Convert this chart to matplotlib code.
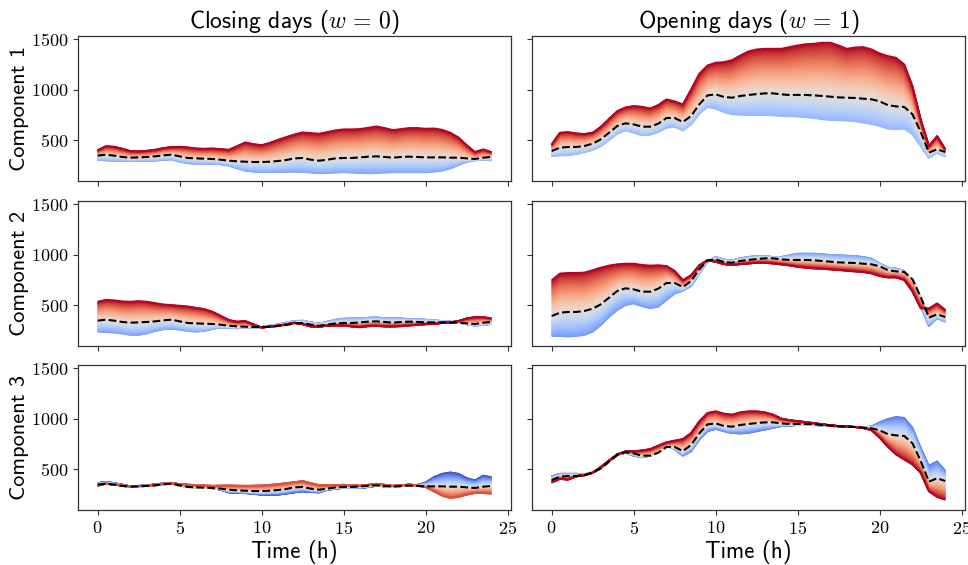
import numpy as np
import matplotlib
matplotlib.use("Agg")
import matplotlib.pyplot as plt
from matplotlib.ticker import FuncFormatter

plt.rcParams['mathtext.fontset'] = 'cm'
plt.rcParams['font.family'] = ['cmss10', 'DejaVu Sans']
plt.rcParams['axes.unicode_minus'] = False

# time grid (hours)
hours = np.arange(0, 24.5, 0.5)

# mean daily profiles
mean_close = [345, 355, 345, 332, 325, 328, 332, 338, 348, 355, 338, 322, 318, 315, 312, 305, 295, 289, 285, 282,
              282, 285, 292, 302, 318, 322, 305, 295, 305, 318, 322, 322, 328, 335, 338, 332, 325, 332, 335, 332,
              328, 328, 328, 325, 325, 318, 312, 325, 332]
mean_open = [391, 424, 431, 431, 441, 464, 507, 573, 639, 665, 655, 632, 632, 662, 718, 718, 678, 738, 853, 942,
             952, 926, 919, 936, 946, 955, 962, 962, 952, 946, 946, 946, 942, 936, 929, 922, 919, 916, 909, 903,
             883, 845, 833, 827, 754, 580, 375, 408, 381]

# extreme curves (largest positive score = red, most negative score = blue)
red_close_1 = [400, 440, 434, 414, 391, 388, 394, 404, 421, 431, 434, 427, 417, 414, 417, 411, 404, 440, 477, 460,
               450, 473, 503, 530, 556, 576, 569, 563, 579, 596, 606, 606, 609, 622, 635, 619, 599, 609, 619, 619,
               612, 615, 602, 573, 526, 450, 381, 407, 381]
blue_close_1 = [302, 298, 295, 293, 292, 292, 292, 296, 302, 308, 285, 269, 266, 266, 266, 259, 246, 219, 196, 186,
                183, 183, 183, 184, 186, 182, 177, 170, 173, 177, 180, 177, 173, 170, 173, 177, 180, 180, 180, 180,
                180, 186, 196, 219, 252, 285, 299, 305, 299]
red_open_1 = [457, 573, 579, 566, 560, 573, 632, 711, 787, 823, 837, 830, 813, 847, 903, 883, 853, 1002, 1157, 1239,
              1266, 1272, 1292, 1338, 1378, 1398, 1404, 1404, 1404, 1421, 1437, 1450, 1454, 1464, 1464, 1437, 1404,
              1417, 1421, 1398, 1358, 1332, 1315, 1249, 1035, 705, 441, 540, 408]
blue_open_1 = [342, 348, 348, 361, 381, 401, 441, 500, 563, 596, 573, 546, 553, 579, 622, 632, 596, 655, 761, 827,
               810, 777, 754, 751, 747, 747, 747, 744, 738, 735, 731, 725, 718, 705, 698, 695, 691, 685, 672, 658,
               639, 612, 606, 612, 556, 441, 325, 375, 335]

red_close_2 = [533, 552, 546, 536, 533, 539, 533, 519, 506, 500, 493, 486, 473, 460, 434, 394, 352, 335, 342, 309,
               276, 286, 296, 309, 325, 309, 286, 283, 296, 296, 296, 286, 279, 289, 292, 286, 286, 289, 296, 302,
               309, 312, 322, 329, 342, 368, 381, 381, 368]
blue_close_2 = [236, 232, 227, 217, 204, 204, 217, 243, 259, 263, 256, 243, 236, 243, 263, 276, 276, 269, 276, 276,
                282, 296, 309, 326, 342, 345, 329, 315, 335, 355, 365, 368, 368, 375, 378, 368, 368, 368, 361, 358,
                355, 348, 342, 335, 329, 309, 296, 302, 312]
red_open_2 = [746, 812, 818, 818, 822, 845, 871, 891, 904, 910, 910, 897, 891, 894, 887, 838, 746, 795, 894, 943,
              927, 904, 894, 904, 910, 917, 917, 910, 901, 891, 877, 868, 861, 858, 851, 845, 838, 831, 825, 812,
              785, 772, 772, 746, 631, 466, 466, 516, 450]
blue_open_2 = [193, 193, 187, 193, 203, 236, 302, 384, 450, 499, 516, 489, 466, 483, 548, 614, 641, 687, 812, 927,
               976, 950, 943, 963, 976, 986, 983, 976, 976, 993, 1009, 1009, 1009, 1003, 996, 993, 989, 986, 976, 960,
               910, 871, 861, 838, 713, 483, 292, 368, 335]

red_close_3 = [334, 354, 347, 338, 328, 331, 334, 345, 354, 361, 351, 346, 341, 337, 334, 336, 338, 336, 334, 336,
               338, 344, 351, 361, 371, 381, 361, 341, 338, 341, 344, 339, 334, 344, 354, 344, 334, 340, 347, 338,
               321, 278, 235, 212, 222, 245, 261, 261, 255]
blue_close_3 = [361, 371, 361, 345, 328, 333, 338, 348, 357, 360, 334, 326, 318, 314, 311, 294, 268, 264, 261, 253,
                245, 245, 245, 256, 268, 278, 271, 268, 294, 304, 314, 312, 311, 322, 334, 328, 321, 331, 341, 341,
                367, 420, 453, 467, 453, 410, 387, 434, 420]
red_open_3 = [367, 401, 394, 427, 438, 462, 520, 585, 645, 675, 675, 685, 698, 732, 765, 781, 798, 857, 973, 1056,
              1072, 1049, 1039, 1062, 1072, 1072, 1062, 1039, 1000, 985, 975, 965, 955, 943, 934, 925, 921, 916, 905,
              885, 808, 718, 642, 592, 543, 460, 278, 222, 195]
blue_open_3 = [427, 453, 453, 453, 446, 468, 512, 578, 642, 662, 632, 616, 632, 675, 732, 698, 632, 675, 791, 874,
               897, 874, 857, 851, 857, 874, 890, 907, 925, 930, 935, 938, 935, 932, 926, 920, 918, 917, 912, 921,
               963, 996, 1016, 1006, 907, 708, 533, 576, 480]

col_titles = [r"Closing days ($w\,=\,0$)", r"Opening days ($w\,=\,1$)"]
row_labels = ["Component 1", "Component 2", "Component 3"]
means = [mean_close, mean_open]
reds = [[red_close_1, red_open_1], [red_close_2, red_open_2], [red_close_3, red_open_3]]
blues = [[blue_close_1, blue_open_1], [blue_close_2, blue_open_2], [blue_close_3, blue_open_3]]

W, H = 968, 565
fig = plt.figure(figsize=(W / 100, H / 100), dpi=100)
cmap = plt.get_cmap('coolwarm')
n_lines = 90

col_x = [78, 532]
col_w = 433
row_top = [36, 201, 365]
row_h = 145

tick_fmt = FuncFormatter(lambda v, p: r"$%d$" % int(round(v)))
for r in range(3):
    for c in range(2):
        ax = fig.add_axes([col_x[c] / W, 1 - (row_top[r] + row_h) / H, col_w / W, row_h / H])
        m = np.array(means[c], dtype=float)
        hi = np.array(reds[r][c], dtype=float)
        lo = np.array(blues[r][c], dtype=float)
        # score range on each side, colour normalised by the larger one
        a = np.max(np.abs(lo - m))
        b = np.max(np.abs(hi - m))
        M = max(a, b)
        fa, fb = a / M, b / M
        for s in np.linspace(-1, 1, n_lines):
            if s >= 0:
                y = m + s * (hi - m)
                cv = 0.5 + 0.5 * s * fb
            else:
                y = m + (-s) * (lo - m)
                cv = 0.5 + 0.5 * s * fa
            ax.plot(hours, y, color=cmap(cv), lw=1.3, solid_capstyle='butt')
        ax.plot(hours, m, color='black', ls='--', lw=1.5)
        ax.set_xlim(-1.2, 25.2)
        ax.set_ylim(94, 1530)
        ax.set_yticks([500, 1000, 1500])
        ax.set_xticks([0, 5, 10, 15, 20, 25])
        ax.yaxis.set_major_formatter(tick_fmt)
        ax.xaxis.set_major_formatter(tick_fmt)
        ax.tick_params(labelsize=13, length=3.5, width=0.8, colors='#333333', labelcolor='black')
        for sp in ax.spines.values():
            sp.set_color('#333333')
            sp.set_linewidth(0.9)
        if c == 1:
            ax.tick_params(labelleft=False)
        else:
            ax.set_ylabel(row_labels[r], fontsize=16, labelpad=1.5)
        if r < 2:
            ax.tick_params(labelbottom=False)
        else:
            ax.set_xlabel("Time (h)", fontsize=16.5, labelpad=2)
        if r == 0:
            ax.set_title(col_titles[c], fontsize=17, pad=5)

fig.savefig("out.png", dpi=100)
